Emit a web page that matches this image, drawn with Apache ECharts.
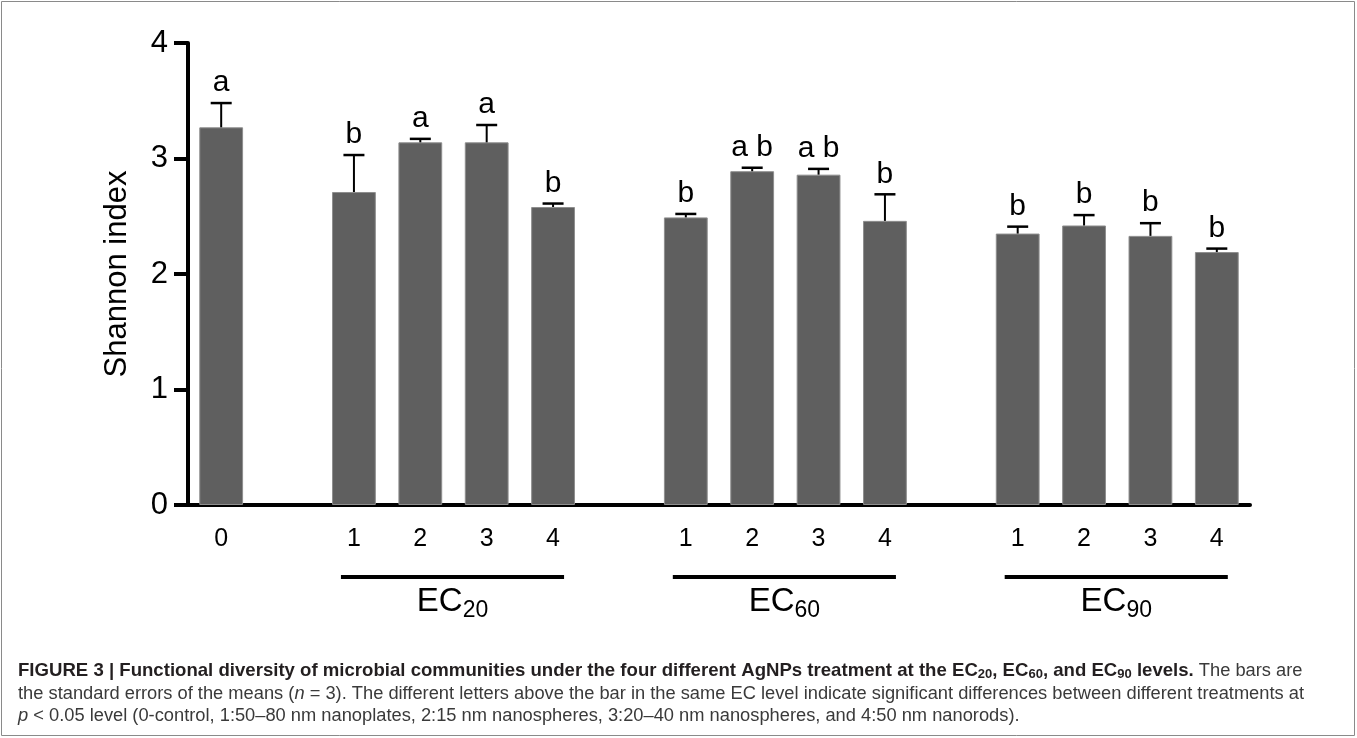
<!DOCTYPE html>
<html>
<head>
<meta charset="utf-8">
<script src="https://cdn.jsdelivr.net/npm/echarts@6/dist/echarts.min.js"></script>
<style>
  html, body { margin: 0; padding: 0; background: #fff; }
  #chart { width: 1357px; height: 738px; }
</style>
</head>
<body>
<div id="chart"></div>
<script>
// Shannon index per treatment; blank categories are the gaps between EC levels
const categories = ['0', '', '1', '2', '3', '4', '', '1', '2', '3', '4', '', '1', '2', '3', '4'];
const means = [3.27, null, 2.71, 3.14, 3.14, 2.58, null, 2.49, 2.89, 2.86, 2.46, null, 2.35, 2.42, 2.33, 2.19];
const stdErr = [0.21, null, 0.32, 0.03, 0.15, 0.03, null, 0.03, 0.03, 0.05, 0.23, null, 0.06, 0.09, 0.11, 0.03];
const letters = ['a', '', 'b', 'a', 'a', 'b', '', 'b', 'ab', 'ab', 'b', '', 'b', 'b', 'b', 'b'];
// EC level groups under the axis
const groupSub = ['20', '60', '90'];
const groupFirst = [2, 7, 12];
const groupLast = [5, 10, 15];
const yMin = 0, yMax = 4, yStep = 1;

const FONT = '"Liberation Sans", Arial, Helvetica, sans-serif';

const chart = echarts.init(document.getElementById('chart'), null, { renderer: 'canvas' });

const errData = means
  .map((m, i) => (m == null ? null : [i, m, stdErr[i]]))
  .filter(Boolean);

chart.setOption({
  animation: false,
  backgroundColor: '#fff',
  grid: { left: 188, right: 107, top: 43, bottom: 233, containLabel: false },
  xAxis: {
    type: 'category',
    data: categories,
    axisLine: { lineStyle: { color: '#000', width: 4 } },
    axisTick: { alignWithLabel: true, interval: 0, length: 12, lineStyle: { color: '#000', width: 4 } },
    axisLabel: { interval: 0, margin: 22, color: '#000', fontSize: 25, fontFamily: FONT },
    splitLine: { show: false },
  },
  yAxis: {
    type: 'value',
    min: yMin,
    max: yMax,
    interval: yStep,
    name: 'Shannon index',
    nameLocation: 'middle',
    nameGap: 55,
    nameTextStyle: { color: '#000', fontSize: 31, fontFamily: FONT },
    axisLine: { show: true, lineStyle: { color: '#000', width: 4 } },
    axisTick: { show: true, length: 14, lineStyle: { color: '#000', width: 4 } },
    axisLabel: { margin: 20, color: '#000', fontSize: 31, fontFamily: FONT },
    splitLine: { show: false },
  },
  series: [
    {
      type: 'bar',
      data: means,
      barCategoryGap: '34%',
      itemStyle: { color: '#5f5f5f', borderColor: '#8e8e8e', borderWidth: 1 },
    },
    {
      type: 'custom',
      data: errData,
      encode: { x: 0, y: 1 },
      z: 5,
      renderItem: (params, api) => {
        const i = api.value(0);
        const top = api.coord([i, api.value(1)]);
        const cap = api.coord([i, api.value(1) + api.value(2)]);
        const half = 10.5;
        return {
          type: 'group',
          children: [
            { type: 'line', shape: { x1: top[0], y1: top[1], x2: cap[0], y2: cap[1] }, style: { stroke: '#000', lineWidth: 2 } },
            { type: 'line', shape: { x1: cap[0] - half, y1: cap[1], x2: cap[0] + half, y2: cap[1] }, style: { stroke: '#000', lineWidth: 2.5 } },
            {
              type: 'text',
              x: cap[0],
              y: cap[1] - 5,
              style: {
                text: letters[i].split('').join(' '),
                fill: '#000',
                font: '30px ' + FONT,
                align: 'center',
                verticalAlign: 'bottom',
              },
            },
          ],
        };
      },
    },
  ],
});

// text width helper for placing the EC label + subscript as one centred unit
const measureCtx = document.createElement('canvas').getContext('2d');
function textWidth(str, font) {
  measureCtx.font = font;
  return measureCtx.measureText(str).width;
}

// group bars + EC labels under the axis, placed from the axis scale
const axisY = chart.convertToPixel({ yAxisIndex: 0 }, 0);
const elements = [];
const ecFont = '33px ' + FONT;
const subFont = '23px ' + FONT;
groupSub.forEach((sub, g) => {
  const xa = chart.convertToPixel({ xAxisIndex: 0 }, groupFirst[g]) - 13;
  const xb = chart.convertToPixel({ xAxisIndex: 0 }, groupLast[g]) + 11;
  elements.push({
    type: 'line',
    shape: { x1: xa, y1: axisY + 72, x2: xb, y2: axisY + 72 },
    style: { stroke: '#000', lineWidth: 4 },
  });
  const wMain = textWidth('EC', ecFont);
  const wSub = textWidth(sub, subFont);
  const left = (xa + xb) / 2 - (wMain + wSub) / 2;
  elements.push({
    type: 'text',
    x: left,
    y: axisY + 97,
    style: { text: 'EC', font: ecFont, fill: '#000', align: 'left', verticalAlign: 'middle' },
  });
  elements.push({
    type: 'text',
    x: left + wMain,
    y: axisY + 106,
    style: { text: sub, font: subFont, fill: '#000', align: 'left', verticalAlign: 'middle' },
  });
});

// caption
const capRich = {
  b: { fontSize: 18.6, fontWeight: 'bold', fontFamily: FONT, fill: '#231f20', lineHeight: 20 },
  bs: { fontSize: 13, fontWeight: 'bold', fontFamily: FONT, fill: '#231f20', lineHeight: 12, padding: [10, 0, 0, 0], verticalAlign: 'bottom' },
  r: { fontSize: 18.3, fontFamily: FONT, fill: '#3a3a3a', lineHeight: 20 },
  i: { fontSize: 18.3, fontStyle: 'italic', fontFamily: FONT, fill: '#3a3a3a', lineHeight: 20 },
};
const captionLines = [
  '{b|FIGURE 3 | Functional diversity of microbial communities under the four different AgNPs treatment at the EC}{bs|20}{b|, EC}{bs|60}{b|, and EC}{bs|90}{b| levels.}{r| The bars are}',
  '{r|the standard errors of the means (}{i|n}{r| = 3). The different letters above the bar in the same EC level indicate significant differences between different treatments at}',
  '{i|p}{r| < 0.05 level (0-control, 1:50–80 nm nanoplates, 2:15 nm nanospheres, 3:20–40 nm nanospheres, and 4:50 nm nanorods).}',
];
const captionY = [671, 694, 716];
captionLines.forEach((t, k) => {
  elements.push({
    type: 'text',
    x: 18,
    y: captionY[k],
    style: { text: t, align: 'left', verticalAlign: 'middle', rich: capRich },
  });
});

elements.push({
  type: 'rect',
  shape: { x: 1.5, y: 1.5, width: 1353, height: 734 },
  style: { fill: 'none', stroke: '#8a8a8a', lineWidth: 1 },
  silent: true,
});

chart.setOption({ graphic: { elements } });
</script>
</body>
</html>
